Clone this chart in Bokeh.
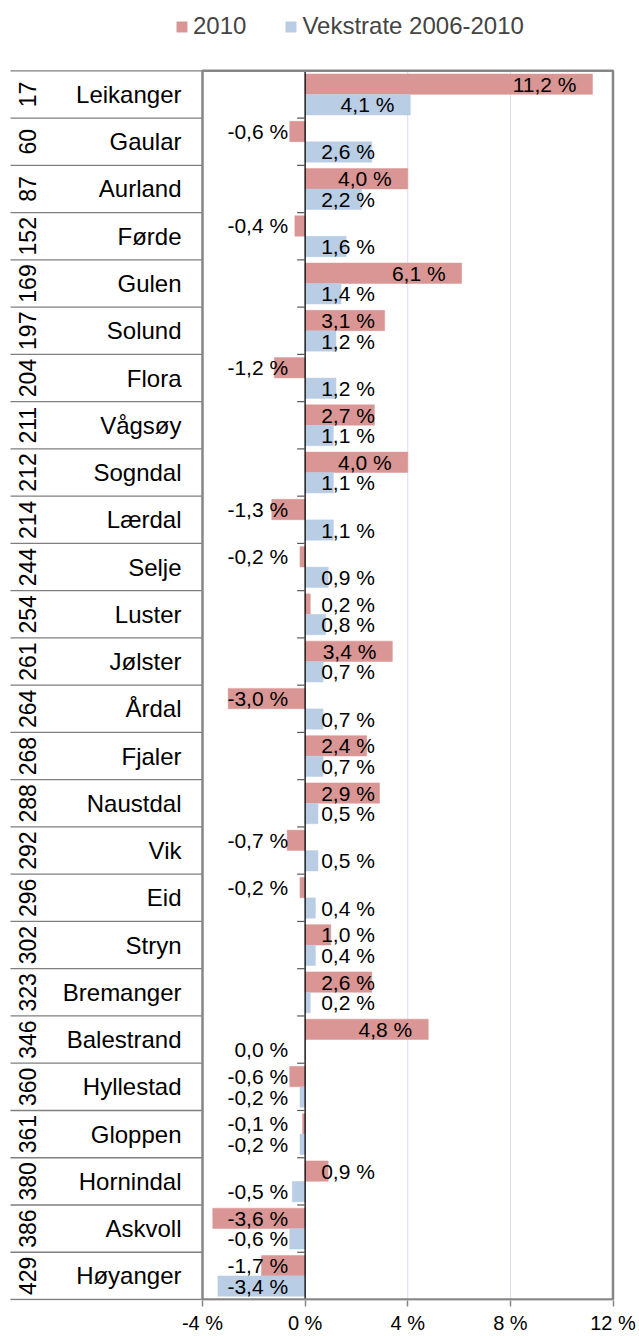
import numpy as np
from bokeh.plotting import figure
from bokeh.models import ColumnDataSource, Range1d, FixedTicker, Legend, LegendItem
from bokeh.embed import file_html
from bokeh.resources import INLINE
from bokeh.core.properties import value

# ---------------- data ----------------
ranks = [17, 60, 87, 152, 169, 197, 204, 211, 212, 214, 244, 254, 261, 264, 268,
         288, 292, 296, 302, 323, 346, 360, 361, 380, 386, 429]
kommuner = ["Leikanger", "Gaular", "Aurland", "Førde", "Gulen", "Solund", "Flora",
            "Vågsøy", "Sogndal", "Lærdal", "Selje", "Luster", "Jølster", "Årdal",
            "Fjaler", "Naustdal", "Vik", "Eid", "Stryn", "Bremanger", "Balestrand",
            "Hyllestad", "Gloppen", "Hornindal", "Askvoll", "Høyanger"]
endring_2010 = [11.2, -0.6, 4.0, -0.4, 6.1, 3.1, -1.2, 2.7, 4.0, -1.3, -0.2, 0.2, 3.4,
                -3.0, 2.4, 2.9, -0.7, -0.2, 1.0, 2.6, 4.8, -0.6, -0.1, 0.9, -3.6, -1.7]
vekstrate = [4.1, 2.6, 2.2, 1.6, 1.4, 1.2, 1.2, 1.1, 1.1, 1.1, 0.9, 0.8, 0.7, 0.7, 0.7,
             0.5, 0.5, 0.4, 0.4, 0.2, 0.0, -0.2, -0.2, -0.5, -0.6, -3.4]
series_names = ["2010", "Vekstrate 2006-2010"]
x_ticks = [-4, 0, 4, 8, 12]
x_tick_labels = ["-4 %", "0 %", "4 %", "8 %", "12 %"]
grid_ticks = [4, 8]

# ---------------- layout constants (pixels, page coordinates) ----------------
W, H = 639, 1336
PAGE = 0
BOTTOM_BORDER = 33
FRAME_L, FRAME_R = 0, 615          # page x of plot frame
FRAME_T = PAGE                     # page y of frame top
FRAME_B = PAGE + H - BOTTOM_BORDER # page y of frame bottom
AX_L, AX_R = 202, 612.5            # page x of -4 % and 12 %
CHART_T = 70.5                     # page y of category 0 top
CHART_B = FRAME_B - 1              # page y of last category bottom

scale = (AX_R - AX_L) / (x_ticks[-1] - x_ticks[0])
x_start = x_ticks[0] - (AX_L - FRAME_L) / scale
x_end = x_ticks[-1] + (FRAME_R - AX_R) / scale
px = lambda page_x: x_ticks[0] - (AX_L - page_x) / scale  # page x -> data x

n = len(kommuner)
rowpx = (CHART_B - CHART_T) / n
y_bottom = n + (FRAME_B - CHART_B) / rowpx
y_top = -(CHART_T - FRAME_T) / rowpx

RED = "#D99694"
BLUE = "#B9CDE5"
FONT = value("Liberation Sans")

centers = [i + 0.5 for i in range(n)]
OFF = 0.217
BAR_H = 0.43
y_red = [c - OFF for c in centers]
y_blue = [c + OFF for c in centers]

p = figure(width=W, height=H,
           x_range=Range1d(x_start, x_end),
           y_range=Range1d(y_bottom, y_top),
           y_axis_location=None,
           toolbar_location=None, output_backend="svg",
           min_border_left=0, min_border_right=W - (FRAME_R - PAGE),
           min_border_top=0, min_border_bottom=BOTTOM_BORDER,
           outline_line_color=None,
           background_fill_color="white", border_fill_color="white")

p.xgrid.visible = False
p.ygrid.visible = False

# vertical grid lines inside the chart area
p.segment(x0=grid_ticks, x1=grid_ticks, y0=[0] * len(grid_ticks), y1=[n] * len(grid_ticks),
          line_color="#D9D9F3", line_width=1)

# x axis
ax = p.xaxis[0]
ax.ticker = FixedTicker(ticks=x_ticks)
ax.major_label_overrides = {t: l for t, l in zip(x_ticks, x_tick_labels)}
ax.axis_line_color = None
ax.major_tick_line_color = "#868686"
ax.major_tick_line_width = 1.5
ax.major_tick_in = 0
ax.major_tick_out = 6
ax.minor_tick_out = 0
ax.minor_tick_in = 0
ax.major_label_standoff = 5
ax.major_label_text_font = "Liberation Sans"
ax.major_label_text_font_size = "20px"
ax.major_label_text_color = "black"

# bars
src_red = ColumnDataSource(dict(y=y_red, v=endring_2010))
src_blue = ColumnDataSource(dict(y=y_blue, v=vekstrate))
r_red = p.hbar(y="y", left=0, right="v", height=BAR_H, source=src_red,
               fill_color=RED, line_color=RED, line_width=0.5)
r_blue = p.hbar(y="y", left=0, right="v", height=BAR_H, source=src_blue,
                fill_color=BLUE, line_color=BLUE, line_width=0.5)

# zero axis line and category ticks
bounds = list(range(n + 1))
p.segment(x0=0, x1=0, y0=0, y1=n, line_color="black", line_width=1.3)
p.segment(x0=[-8 / scale] * len(bounds), x1=[0] * len(bounds), y0=bounds, y1=bounds,
          line_color="#595959", line_width=1.2)

# data labels
def fmt(v):
    s = f"{v:.1f}".replace(".", ",")
    if s == "-0,0":
        s = "0,0"
    return s + " %"

LABEL_W = 54
def label_sources(vals, ys):
    right = dict(x=[], y=[], t=[], dx=[])
    left = dict(x=[], y=[], t=[])
    for v, y in zip(vals, ys):
        t = fmt(v)
        if v <= 0:
            right["x"].append(0); right["dx"].append(-17)
            right["y"].append(y); right["t"].append(t)
        elif v * scale - 16 - LABEL_W >= 16:
            right["x"].append(v); right["dx"].append(-16)
            right["y"].append(y); right["t"].append(t)
        else:
            left["x"].append(0); left["y"].append(y); left["t"].append(t)
    return right, left

for vals, ys in ((endring_2010, y_red), (vekstrate, y_blue)):
    rsrc, lsrc = label_sources(vals, ys)
    p.text(x="x", y="y", text="t", x_offset="dx", source=ColumnDataSource(rsrc),
           text_align="right", text_baseline="middle", text_font=FONT,
           text_font_size="21px", text_color="black")
    p.text(x="x", y="y", text="t", x_offset=16, source=ColumnDataSource(lsrc),
           text_align="left", text_baseline="middle", text_font=FONT,
           text_font_size="21px", text_color="black")

# table on the left
p.segment(x0=[px(10)] * len(bounds), x1=[x_ticks[0]] * len(bounds), y0=bounds, y1=bounds,
          line_color="#7F7F7F", line_width=1.3)
p.text(x=[px(27)] * n, y=centers, text=[str(r) for r in ranks], angle=np.pi / 2,
       text_align="center", text_baseline="middle", text_font=FONT,
       text_font_size="23px", text_color="black")
p.text(x=[px(181)] * n, y=centers, text=kommuner,
       text_align="right", text_baseline="middle", text_font=FONT,
       text_font_size="24px", text_color="black")

# plot-area frame
p.quad(left=x_ticks[0], right=x_ticks[-1], top=0, bottom=n, fill_color=None,
       line_color="#868686", line_width=2.5)

# legend (inside the canvas frame, above the chart area)
LEG_L, LEG_BOTTOM = 175, 43
legend = Legend(items=[LegendItem(label=series_names[0], renderers=[r_red]),
                       LegendItem(label=series_names[1], renderers=[r_blue])],
                orientation="horizontal",
                location=(LEG_L - FRAME_L, FRAME_B - LEG_BOTTOM),
                border_line_color=None, background_fill_alpha=0,
                label_text_font="Liberation Sans", label_text_font_size="24px",
                glyph_width=13, glyph_height=13, label_standoff=5, spacing=38,
                padding=0, margin=0)
p.add_layout(legend, "center")

open("out.html", "w").write(file_html(p, INLINE))
